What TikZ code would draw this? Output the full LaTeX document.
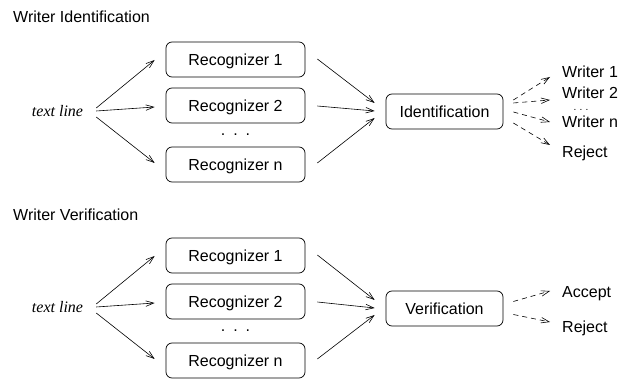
\documentclass[tikz,border=0pt]{standalone}
\usepackage{fontspec}
\setmainfont{Liberation Sans}
\newfontfamily\timesfont{Liberation Serif}
\usetikzlibrary{arrows.meta}
\begin{document}
\begin{tikzpicture}[x=1pt,y=-1pt,
  every node/.style={font=\fontsize{16}{19}\selectfont},
  rbox/.style={draw,line width=0.7pt,rounded corners=6pt,minimum height=35pt,inner sep=0pt,text height=11.5pt,text depth=0pt},
  recbox/.style={rbox,minimum width=139pt},
  decbox/.style={rbox,minimum width=117pt},
  lbl/.style={inner sep=0pt,anchor=west,text height=11.5pt,text depth=0pt},
  arr/.style={line width=0.6pt,-{Straight Barb[length=8pt,width=5.5pt]}},
  darr/.style={arr,dash pattern=on 5pt off 4pt},
  dots/.style={inner sep=0pt}
]
\useasboundingbox (0,0) rectangle (622,379);

% ---------- Writer Identification ----------
\node[lbl] (t1) at (13,17) {Writer Identification};
\node[inner sep=0pt,text height=7pt,text depth=0pt,font=\fontsize{16}{19}\timesfont\itshape] (tl1) at (57.5,113) {text line};
\node[recbox] (a1) at (235.5,59.5) {Recognizer 1};
\node[recbox] (a2) at (235.5,105.5) {Recognizer 2};
\node[dots] (ad) at (235.5,135) {.\,\,\,.\,\,\,.};
\node[recbox] (an) at (235.5,164.5) {Recognizer n};
\node[decbox] (id) at (444.5,111.5) {Identification};
\node[lbl] (w1) at (562,72) {Writer 1};
\node[lbl] (w2) at (562,93) {Writer 2};
\node[dots,font=\fontsize{10}{12}\selectfont] (wd) at (581,110) {.\,\,.\,\,.};
\node[lbl] (wn) at (562,122) {Writer n};
\node[lbl] (rj1) at (562,152) {Reject};

\draw[arr] ([shift={(13,-5)}]tl1.east) -- ([shift={(-11,0.5)}]a1.west);
\draw[arr] ([shift={(13,-2)}]tl1.east) -- ([shift={(-11,1.5)}]a2.west);
\draw[arr] ([shift={(13,4)}]tl1.east) -- ([shift={(-11,-1.5)}]an.west);
\draw[arr] ([shift={(12,-0.5)}]a1.east) -- ([shift={(-11,-8.5)}]id.west);
\draw[arr] ([shift={(12,0.5)}]a2.east) -- ([shift={(-11,-0.5)}]id.west);
\draw[arr] ([shift={(12,-1.5)}]an.east) -- ([shift={(-11,6.5)}]id.west);
\draw[darr] ([shift={(10,-11.5)}]id.east) -- ([shift={(-12,5)}]w1.west);
\draw[darr] ([shift={(10,-8.5)}]id.east) -- ([shift={(-12,7)}]w2.west);
\draw[darr] ([shift={(10,0.5)}]id.east) -- ([shift={(-12,0)}]wn.west);
\draw[darr] ([shift={(10,11.5)}]id.east) -- ([shift={(-12,-7)}]rj1.west);

% ---------- Writer Verification ----------
\node[lbl] (t2) at (13,215) {Writer Verification};
\node[inner sep=0pt,text height=7pt,text depth=0pt,font=\fontsize{16}{19}\timesfont\itshape] (tl2) at (57.5,309) {text line};
\node[recbox] (b1) at (235.5,255.5) {Recognizer 1};
\node[recbox] (b2) at (235.5,301.5) {Recognizer 2};
\node[dots] (bd) at (235.5,331) {.\,\,\,.\,\,\,.};
\node[recbox] (bn) at (235.5,360.5) {Recognizer n};
\node[decbox] (ve) at (444.5,308.5) {Verification};
\node[lbl] (ac) at (562,292) {Accept};
\node[lbl] (rj2) at (562,327) {Reject};

\draw[arr] ([shift={(13,-5)}]tl2.east) -- ([shift={(-11,0.5)}]b1.west);
\draw[arr] ([shift={(13,-2)}]tl2.east) -- ([shift={(-11,1.5)}]b2.west);
\draw[arr] ([shift={(13,4)}]tl2.east) -- ([shift={(-11,-1.5)}]bn.west);
\draw[arr] ([shift={(12,-0.5)}]b1.east) -- ([shift={(-11,-8.5)}]ve.west);
\draw[arr] ([shift={(12,0.5)}]b2.east) -- ([shift={(-11,-0.5)}]ve.west);
\draw[arr] ([shift={(12,-1.5)}]bn.east) -- ([shift={(-11,6.5)}]ve.west);
\draw[darr] ([shift={(10,-7)}]ve.east) -- ([shift={(-12,-1)}]ac.west);
\draw[darr] ([shift={(10,6)}]ve.east) -- ([shift={(-12,-5)}]rj2.west);
\end{tikzpicture}
\end{document}
